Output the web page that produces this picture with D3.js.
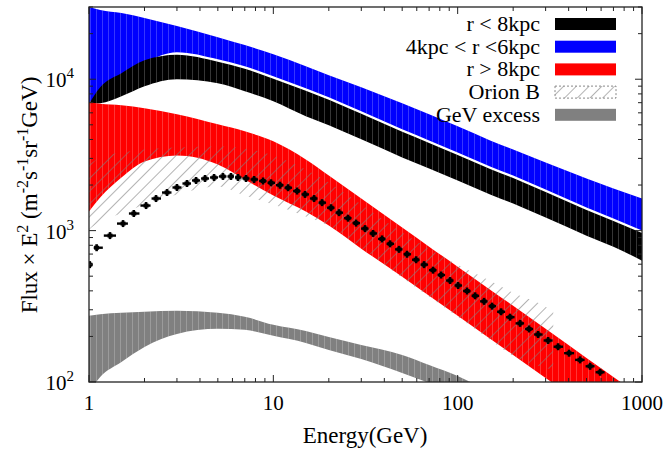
<!DOCTYPE html>
<html>
<head>
<meta charset="utf-8">
<script src="https://cdn.jsdelivr.net/npm/d3@7"></script>
<style>
body { margin: 0; background: #fff; }
</style>
</head>
<body>
<div id="chart"></div>
<script>
var width = 669,
height = 449;
var serif = "'Liberation Serif', 'Times New Roman', Times, 'DejaVu Serif', serif";

// energy grid of the model bands (GeV)
var eGrid = [1, 1.15, 1.5, 2, 3, 5, 7, 10, 15, 20, 30, 50, 70, 100, 150, 200, 300, 500, 700, 1000];

var blueHi  = [30000, 28640, 27360, 25350, 22440, 18970, 16800, 14640, 12190, 10630, 8851, 6935, 5864, 4884, 3945, 3439, 2820, 2210, 1897, 1629];
var blueLo  = [6935, 8328, 10000, 12760, 15100, 13570, 12190, 10470, 8717, 7600, 6140, 4666, 3945, 3285, 2653, 2313, 1868, 1420, 1201, 1000];
var blackHi = [6881, 8851, 10960, 13360, 14530, 13060, 11740, 10080, 8391, 7315, 5910, 4491, 3798, 3162, 2555, 2227, 1799, 1367, 1156, 962.6];
var blackLo = [6881, 6935, 7716, 8986, 10000, 9408, 8328, 7150, 5689, 4960, 4006, 3044, 2574, 2143, 1731, 1510, 1220, 926.6, 783.4, 632.9];
var redHi   = [7040, 6881, 6725, 6425, 5864, 5035, 4525, 3886, 2953, 2313, 1629, 1047, 783.4, 577.6, 406.7, 318.7, 224.4, 144.1, 107.9, 79.6];
var redLo   = [1336, 1654, 2244, 2864, 3138, 2736, 2176, 1705, 1336, 1079, 760, 496, 371, 273.6, 192.7, 151, 106.3, 69.3, 52.7, 38.3];
var grayHi  = [273.6, 280.1, 286.4, 290.8, 295.3, 286.4, 269.5, 238.5, 217.6, 198.6, 175.8, 151, 129.6, 109.6, 85.9, 72.6, 56, 44, 38, 32];
var grayLo  = [86, 107.9, 135.7, 170.5, 207.9, 224.4, 221.0, 201.7, 181.2, 162.9, 142.0, 114.7, 98.5, 82.0, 66, 56, 45, 34, 29, 24];

// Orion B band
var orionE  = [1, 1.15, 1.5, 2, 3, 5, 7, 10, 15, 20, 30, 50, 70, 100, 150, 200, 300, 330];
var orionHi = [2736, 3044, 3285, 3439, 3545, 3600, 3492, 3138, 2535, 2079, 1487, 970, 760, 595.5, 466.6, 388.6, 313.9, 290.8];
var orionLo = [1015, 1147, 1296, 1487, 1731, 1956, 1705, 1487, 1238, 1079, 771.6, 488.3, 365.5, 269.5, 189.7, 148.7, 123.8, 120.1];

// measured points
var dataE = [1.01, 1.10, 1.30, 1.53, 1.75, 2.04, 2.31, 2.65, 3.00, 3.40, 3.81, 4.26, 4.77, 5.33, 5.89, 6.43, 7.11, 7.86, 8.80, 9.71,
  10.87, 12.02, 13.45, 14.86, 16.63, 18.38, 20.56, 22.73, 25.43, 28.10, 31.45, 34.75, 38.89, 42.98, 48.08, 53.14, 59.48, 65.73, 73.53, 81.28,
  90.95, 100.5, 112.5, 124.3, 139.1, 153.7, 172.0, 192.4, 218.1, 244.0, 273.1, 309.4, 350.6, 402.2, 461.5, 522.9, 592.5];
var dataF = [596, 771, 927, 1113, 1297, 1464, 1629, 1785, 1927, 2047, 2144, 2209, 2244, 2279, 2279, 2244, 2210, 2176, 2127, 2070,
  1995, 1920, 1826, 1734, 1629, 1530, 1416, 1314, 1208, 1121, 1031, 958, 881, 818, 752, 698, 642, 596, 548, 509,
  468, 434, 399, 371, 341, 317, 291, 268, 244, 224, 206, 188, 171, 155, 140, 127, 116];

var xMajor = [1, 10, 100, 1000];
var xLabels = ["1", "10", "100", "1000"];
var yMajor = [100, 1000, 10000];
var yExp = ["2", "3", "4"];

var legendNames = ["r < 8kpc", "4kpc < r <6kpc", "r > 8kpc", "Orion B", "GeV excess"];

var svg = d3.select('#chart').append('svg')
  .attr('width', width)
  .attr('height', height)
  .attr('font-family', serif)
  .style('font-family', serif);

var x = d3.scaleLog().domain([1, 1000]).range([89, 642]);
var y = d3.scaleLog().domain([100, 30000]).range([382, 7]);

var defs = svg.append('defs');
defs.append('clipPath').attr('id', 'plotclip')
  .append('rect').attr('x', 89).attr('y', 7).attr('width', 553).attr('height', 375);

// thin white vertical seams like the original rendering
var vl = defs.append('pattern').attr('id', 'vl')
  .attr('patternUnits', 'userSpaceOnUse').attr('width', 6).attr('height', 10);
vl.append('rect').attr('x', 0).attr('y', 0).attr('width', 0.6).attr('height', 10)
  .attr('fill', '#fff').attr('opacity', 0.35);

var hatch = defs.append('pattern').attr('id', 'hatch')
  .attr('patternUnits', 'userSpaceOnUse').attr('width', 9).attr('height', 9)
  .attr('patternTransform', 'rotate(45)');
hatch.append('line').attr('x1', 0).attr('y1', 0).attr('x2', 0).attr('y2', 9)
  .attr('stroke', '#808080').attr('stroke-width', 1.2);

function band(es, lo, hi) {
  return es.map(function(e, i) { return {e: e, lo: lo[i], hi: hi[i]}; });
}

var area = d3.area()
  .x(function(d) { return x(d.e); })
  .y0(function(d) { return y(d.lo); })
  .y1(function(d) { return y(d.hi); })
  .curve(d3.curveMonotoneX);

var g = svg.append('g').attr('clip-path', 'url(#plotclip)');

var bands = [
  {d: band(eGrid, blueLo, blueHi), c: '#0000ff'},
  {d: band(eGrid, blackLo, blackHi), c: '#000000'},
  {d: band(eGrid, redLo, redHi), c: '#ff0000'},
  {d: band(eGrid, grayLo, grayHi), c: '#808080'}
];
bands.forEach(function(b) {
  g.append('path').attr('d', area(b.d)).attr('fill', b.c);
  g.append('path').attr('d', area(b.d)).attr('fill', 'url(#vl)');
});

g.append('path').attr('d', area(band(orionE, orionLo, orionHi)))
  .attr('fill', 'url(#hatch)');

// data points
var pts = dataE.map(function(e, i) {
  var lo = i > 0 ? Math.sqrt(dataE[i - 1] * e) : e / Math.sqrt(dataE[1] / dataE[0]);
  var hi = i < dataE.length - 1 ? Math.sqrt(dataE[i + 1] * e) : e * Math.sqrt(e / dataE[i - 1]);
  return {e: e, f: dataF[i], lo: lo, hi: hi};
});
var pg = g.append('g').attr('stroke', '#000');
pg.selectAll('.hbar').data(pts).enter().append('line')
  .attr('x1', function(d) { return x(d.lo) + 0.5; })
  .attr('x2', function(d) { return x(d.hi) - 0.5; })
  .attr('y1', function(d) { return y(d.f); })
  .attr('y2', function(d) { return y(d.f); })
  .attr('stroke-width', 2.4);
pg.selectAll('.vbar').data(pts).enter().append('line')
  .attr('x1', function(d) { return x(d.e); })
  .attr('x2', function(d) { return x(d.e); })
  .attr('y1', function(d) { return y(d.f) - 3.5; })
  .attr('y2', function(d) { return y(d.f) + 3.5; })
  .attr('stroke-width', 2.6);
pg.selectAll('.dot').data(pts).enter().append('rect')
  .attr('x', function(d) { return x(d.e) - 2.5; })
  .attr('y', function(d) { return y(d.f) - 2; })
  .attr('width', 5).attr('height', 4).attr('stroke', 'none').attr('fill', '#000');

// frame and ticks (inward, mirrored)
var ax = svg.append('g').attr('stroke', '#222').attr('stroke-width', 1);
x.ticks().forEach(function(t) {
  var len = xMajor.indexOf(t) >= 0 ? 7 : 4;
  ax.append('line').attr('x1', x(t)).attr('x2', x(t)).attr('y1', 382).attr('y2', 382 - len);
  ax.append('line').attr('x1', x(t)).attr('x2', x(t)).attr('y1', 7).attr('y2', 7 + len);
});
y.ticks().forEach(function(t) {
  var len = yMajor.indexOf(t) >= 0 ? 7 : 4;
  ax.append('line').attr('y1', y(t)).attr('y2', y(t)).attr('x1', 89).attr('x2', 89 + len);
  ax.append('line').attr('y1', y(t)).attr('y2', y(t)).attr('x1', 642).attr('x2', 642 - len);
});
svg.append('rect').attr('x', 89).attr('y', 7).attr('width', 553).attr('height', 375)
  .attr('fill', 'none').attr('stroke', '#222').attr('stroke-width', 1.3);

svg.selectAll('.xl').data(xMajor).enter().append('text')
  .attr('x', function(d) { return x(d); })
  .attr('y', 410)
  .attr('text-anchor', 'middle')
  .attr('font-size', 21)
  .text(function(d, i) { return xLabels[i]; });

yMajor.forEach(function(v, i) {
  var t = svg.append('text').attr('x', 74).attr('y', y(v) + 8)
    .attr('text-anchor', 'end').attr('font-size', 21);
  t.append('tspan').text('10');
  t.append('tspan').attr('dy', -9).attr('font-size', 15).text(yExp[i]);
});

svg.append('text').attr('x', 365).attr('y', 443)
  .attr('text-anchor', 'middle').attr('font-size', 23).text('Energy(GeV)');

var yl = svg.append('text').attr('transform', 'translate(37,195) rotate(-90)')
  .attr('text-anchor', 'middle').attr('font-size', 23);
var parts = [['Flux \u00d7 E', 0], ['2', 1], [' (m', 0], ['-2', 1], ['s', 0], ['-1', 1], ['sr', 0], ['-1', 1], ['GeV)', 0]];
var up = false;
parts.forEach(function(p) {
  var ts = yl.append('tspan').text(p[0]);
  if (p[1] && !up) { ts.attr('dy', -9).attr('font-size', 16); up = true; }
  else if (p[1]) { ts.attr('font-size', 16); }
  else if (up) { ts.attr('dy', 9); up = false; }
});

// legend
var legColors = ['#000000', '#0000ff', '#ff0000', 'url(#hatch)', '#808080'];
var leg = svg.append('g');
legendNames.forEach(function(n, i) {
  var cy = 24 + i * 22.7;
  leg.append('text').attr('x', 540).attr('y', cy + 7)
    .attr('text-anchor', 'end').attr('font-size', 22).text(n);
  var r = leg.append('rect').attr('x', 555).attr('y', cy - 6).attr('width', 61).attr('height', 12)
    .attr('fill', legColors[i]);
  if (i == 3) r.attr('stroke', '#888').attr('stroke-dasharray', '2,2').attr('stroke-width', 1);
});
</script>
</body>
</html>
